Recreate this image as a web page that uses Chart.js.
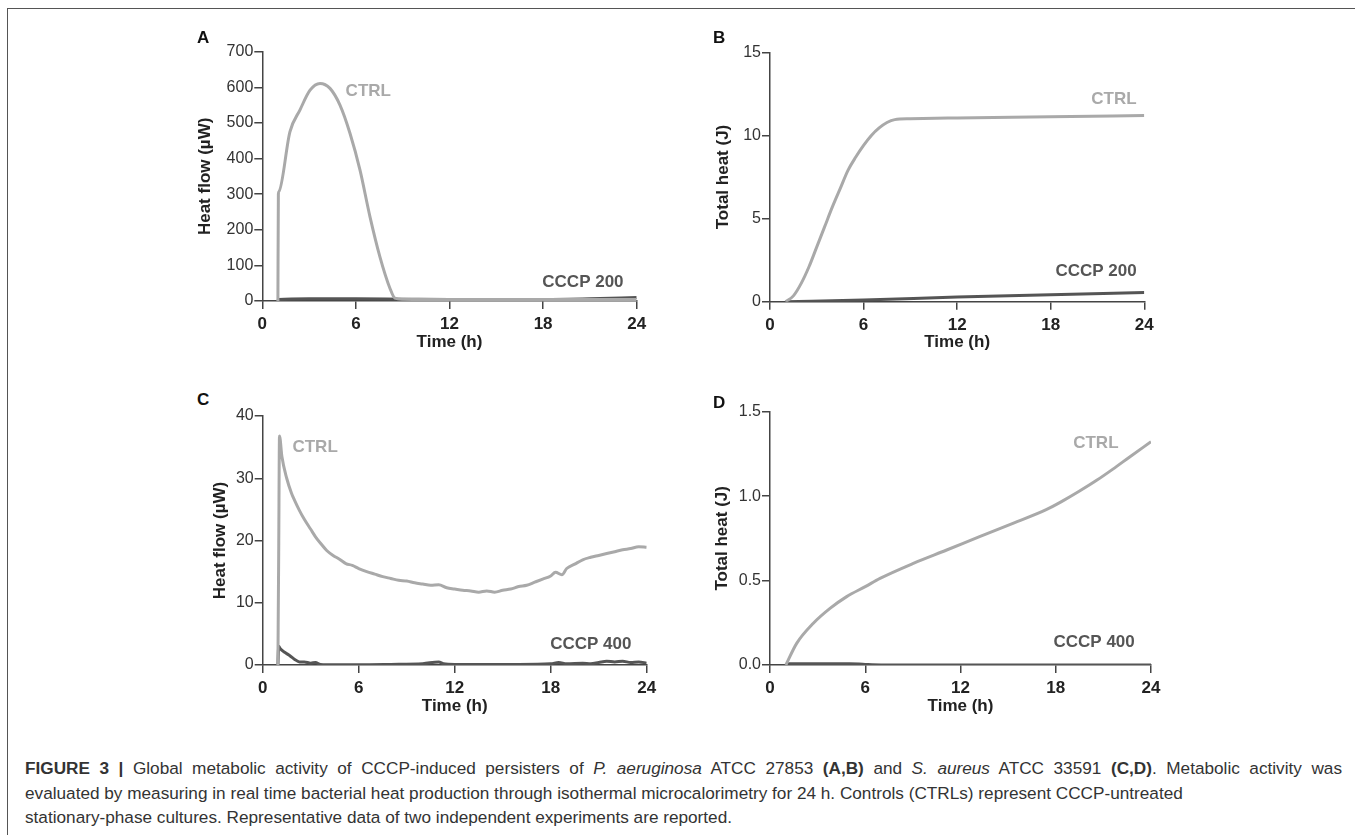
<!DOCTYPE html>
<html><head><meta charset="utf-8">
<script src="https://cdn.jsdelivr.net/npm/chart.js@4.4.1/dist/chart.umd.min.js"></script>
<style>
body{margin:0;width:1355px;height:835px;background:#fff;position:relative;overflow:hidden;font-family:"Liberation Sans",Arial,Helvetica,sans-serif;}
#frame{position:absolute;left:7px;top:8px;width:1400px;height:900px;border-left:1.5px solid #555;border-top:1.5px solid #555;}
canvas{position:absolute;}
.lt{position:absolute;font:bold 17px "Liberation Sans",Arial,sans-serif;color:#111;line-height:17px;}
#cap{position:absolute;left:25px;top:756px;font-size:17.2px;line-height:24.5px;color:#333;}
#cap div{white-space:nowrap;}
#cap .l1{width:1317px;text-align:justify;text-align-last:justify;white-space:normal;}
</style></head><body>
<div id="frame"></div>
<canvas id="cA" width="460" height="330" style="left:195px;top:30px"></canvas>
<canvas id="cB" width="450" height="330" style="left:713px;top:30px"></canvas>
<canvas id="cC" width="460" height="329" style="left:210px;top:395px"></canvas>
<canvas id="cD" width="457" height="334" style="left:712px;top:390px"></canvas>
<div class="lt" style="left:197px;top:29px">A</div>
<div class="lt" style="left:713px;top:29px">B</div>
<div class="lt" style="left:197px;top:391px">C</div>
<div class="lt" style="left:713px;top:394px">D</div>
<div id="cap">
<div class="l1"><b>FIGURE 3 |</b> Global metabolic activity of CCCP-induced persisters of <i>P. aeruginosa</i> ATCC 27853 <b>(A,B)</b> and <i>S. aureus</i> ATCC 33591 <b>(C,D)</b>. Metabolic activity was</div>
<div>evaluated by measuring in real time bacterial heat production through isothermal microcalorimetry for 24 h. Controls (CTRLs) represent CCCP-untreated</div>
<div>stationary-phase cultures. Representative data of two independent experiments are reported.</div>
</div>
<script>
// ---------- DATA ----------
const xTicks = [0, 6, 12, 18, 24];

// Panel A: heat flow (µW), P. aeruginosa
const tA_ctrl = [1.0, 1.03, 1.06, 1.77, 2.41, 3.06, 3.7, 4.34, 4.98, 5.62, 6.26, 6.9, 7.54, 8.18, 8.5, 9, 12, 18, 24];
const vA_ctrl = [0, 300, 307, 475, 536, 592, 611, 597, 550, 471, 368, 237, 124, 36, 8, 5, 4, 4, 4];
const tA_cccp = [1.0, 1.05, 3, 6, 9, 12, 15, 18, 21, 24];
const vA_cccp = [0, 4, 6, 6, 5, 4, 4, 4, 6, 10];

// Panel B: total heat (J), P. aeruginosa
const tB_ctrl = [1.0, 1.5, 2.0, 2.5, 3.0, 3.5, 4.0, 4.5, 5.0, 5.5, 6.0, 6.5, 7.0, 7.5, 8.0, 9, 12, 18, 24];
const vB_ctrl = [0, 0.35, 1.1, 2.1, 3.3, 4.5, 5.7, 6.8, 7.9, 8.7, 9.4, 10.0, 10.45, 10.78, 10.95, 11.0, 11.05, 11.12, 11.2];
const tB_cccp = [1.0, 6, 12, 18, 24];
const vB_cccp = [0, 0.1, 0.28, 0.42, 0.55];

// Panel C: heat flow (µW), S. aureus
const tC_ctrl = [0.95, 1.0, 1.05, 1.2, 1.5, 1.8, 2.0, 2.3, 2.6, 3.0, 3.3, 3.6, 4.0, 4.4, 4.8, 5.2, 5.6, 6.0, 6.5, 7.0, 7.5, 8.0, 8.5, 9.0, 9.5, 10.0, 10.5, 11.0, 11.5, 12.0, 12.5, 13.0, 13.5, 14.0, 14.5, 15.0, 15.5, 16.0, 16.5, 17.0, 17.5, 18.0, 18.3, 18.7, 19.0, 19.5, 20.0, 20.5, 21.0, 21.5, 22.0, 22.5, 23.0, 23.5, 24.0];
const vC_ctrl = [0, 18, 36.8, 33.5, 30, 27.6, 26.4, 24.8, 23.4, 21.8, 20.6, 19.6, 18.4, 17.6, 17.0, 16.3, 16.0, 15.5, 15.0, 14.6, 14.2, 13.9, 13.6, 13.5, 13.2, 13.0, 12.8, 12.9, 12.4, 12.2, 12.0, 11.9, 11.7, 11.9, 11.7, 12.0, 12.2, 12.6, 12.8, 13.3, 13.8, 14.3, 14.9, 14.5, 15.5, 16.2, 16.9, 17.3, 17.6, 17.9, 18.2, 18.5, 18.7, 19.0, 18.9];
const tC_cccp = [0.95, 1.0, 1.1, 1.4, 1.7, 2.0, 2.3, 2.6, 3.0, 3.3, 3.6, 4, 6, 8, 10, 11, 11.3, 12, 14, 16, 18, 18.5, 19, 20, 20.5, 21, 21.5, 22, 22.5, 23, 23.5, 24];
const vC_cccp = [0, 3.0, 2.6, 2.0, 1.5, 0.9, 0.5, 0.5, 0.3, 0.4, 0.1, 0.05, 0.05, 0.1, 0.2, 0.5, 0.2, 0.1, 0.1, 0.1, 0.2, 0.4, 0.2, 0.3, 0.2, 0.4, 0.6, 0.5, 0.6, 0.4, 0.5, 0.3];

// Panel D: total heat (J), S. aureus
const tD_ctrl = [1.0, 1.68, 2.73, 3.78, 4.83, 6.0, 6.93, 9.03, 11.13, 13.2, 15.3, 17.4, 18.5, 19.5, 20.6, 21.6, 22.7, 24];
const vD_ctrl = [0, 0.128, 0.247, 0.335, 0.405, 0.464, 0.513, 0.602, 0.681, 0.76, 0.839, 0.92, 0.975, 1.03, 1.095, 1.16, 1.235, 1.322];
const tD_cccp = [1.0, 1.2, 5, 6, 7, 24];
const vD_cccp = [0, 0.008, 0.008, 0.003, 0, 0];

// ---------- STYLE ----------
const FONT = '"Liberation Sans", Arial, sans-serif';
const CTRL_COLOR = '#a9a9a9';
const CCCP_COLOR = '#555555';
const AXIS_COLOR = '#444444';

const labelPlugin = {
  id: 'seriesLabels',
  afterDatasetsDraw(chart, args, opts) {
    const {ctx, scales: {x, y}} = chart;
    (opts.items || []).forEach(it => {
      ctx.save();
      ctx.font = 'bold 17px ' + FONT;
      ctx.fillStyle = it.color;
      ctx.textAlign = 'left';
      ctx.textBaseline = 'middle';
      ctx.fillText(it.text, x.getPixelForValue(it.x), y.getPixelForValue(it.y));
      ctx.restore();
    });
  }
};

function pts(t, v) { return t.map((tt, i) => ({x: tt, y: v[i]})); }

function makeChart(id, g) {
  new Chart(document.getElementById(id), {
    type: 'line',
    data: {
      datasets: [
        {data: pts(g.tc, g.vc), borderColor: CTRL_COLOR, borderWidth: 3, pointRadius: 0, cubicInterpolationMode: 'monotone'},
        {data: pts(g.tk, g.vk), borderColor: CCCP_COLOR, borderWidth: 3, pointRadius: 0, cubicInterpolationMode: 'monotone'}
      ]
    },
    options: {
      responsive: false, animation: false,
      layout: {padding: {left: 0, top: g.padTop, right: g.padRight, bottom: 0}},
      plugins: {legend: {display: false}, tooltip: {enabled: false}, seriesLabels: {items: g.labels}},
      scales: {
        x: {
          type: 'linear', min: 0, max: 24,
          afterBuildTicks: s => { s.ticks = xTicks.map(v => ({value: v})); },
          afterFit: s => { s.height = g.xH; },
          grid: {drawOnChartArea: false, drawTicks: true, tickLength: 8, color: AXIS_COLOR, lineWidth: 1.5},
          border: {display: true, color: AXIS_COLOR, width: 1.5},
          ticks: {font: {family: FONT, size: 17, weight: 'bold'}, color: '#222', padding: 5, maxRotation: 0},
          title: {display: true, text: 'Time (h)', font: {family: FONT, size: 17, weight: 'bold'}, color: '#222', padding: {top: 0, bottom: 7}}
        },
        y: {
          min: 0, max: g.yMax,
          ticks: {stepSize: g.yStep, font: {family: FONT, size: 16}, color: '#333', padding: 1,
                  callback: v => g.dec ? v.toFixed(1) : String(v)},
          afterFit: s => { s.width = g.yW; },
          grid: {drawOnChartArea: false, drawTicks: true, tickLength: 8, color: AXIS_COLOR, lineWidth: 1.5},
          border: {display: true, color: AXIS_COLOR, width: 1.5},
          title: {display: true, text: g.yTitle, font: {family: FONT, size: 17, weight: 'bold'}, color: '#222', padding: {top: 0.3, bottom: 0}}
        }
      }
    },
    plugins: [labelPlugin]
  });
}

makeChart('cA', {tc: tA_ctrl, vc: vA_ctrl, tk: tA_cccp, vk: vA_cccp, yMax: 700, yStep: 100, yTitle: 'Heat flow (µW)',
  yW: 67.3, xH: 59, padTop: 21.7, padRight: 18.3,
  labels: [{text: 'CTRL', x: 5.34, y: 588, color: CTRL_COLOR}, {text: 'CCCP 200', x: 17.95, y: 52, color: CCCP_COLOR}]});
makeChart('cB', {tc: tB_ctrl, vc: vB_ctrl, tk: tB_cccp, vk: vB_cccp, yMax: 15, yStep: 5, yTitle: 'Total heat (J)',
  yW: 57, xH: 58.3, padTop: 22.3, padRight: 18.7,
  labels: [{text: 'CTRL', x: 20.6, y: 12.2, color: CTRL_COLOR}, {text: 'CCCP 200', x: 18.3, y: 1.85, color: CCCP_COLOR}]});
makeChart('cC', {tc: tC_ctrl, vc: vC_ctrl, tk: tC_cccp, vk: vC_cccp, yMax: 40, yStep: 10, yTitle: 'Heat flow (µW)',
  yW: 52.7, xH: 59, padTop: 21, padRight: 23.3,
  labels: [{text: 'CTRL', x: 1.86, y: 34.9, color: CTRL_COLOR}, {text: 'CCCP 400', x: 17.97, y: 3.37, color: CCCP_COLOR}]});
makeChart('cD', {tc: tD_ctrl, vc: vD_ctrl, tk: tD_cccp, vk: vD_cccp, yMax: 1.5, yStep: 0.5, yTitle: 'Total heat (J)', dec: true,
  yW: 58, xH: 59, padTop: 21.7, padRight: 18,
  labels: [{text: 'CTRL', x: 19.1, y: 1.312, color: CTRL_COLOR}, {text: 'CCCP 400', x: 17.86, y: 0.134, color: CCCP_COLOR}]});
</script>
</body></html>
